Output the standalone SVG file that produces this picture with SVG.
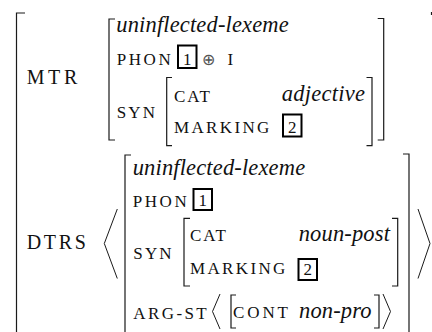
<svg xmlns="http://www.w3.org/2000/svg" width="432" height="332" viewBox="0 0 432 332">
<style>
.br{fill:none;stroke:#1a1a1a;stroke-width:1.2}
.ang{fill:none;stroke:#1a1a1a;stroke-width:1}
.box{fill:none;stroke:#000;stroke-width:2}
</style>
<rect width="432" height="332" fill="#fff"/>
<g id="connectors">
<path class="br" d="M25 13H16.5V333"/>
<path class="br" d="M431.5 12V15"/>
<path class="br" d="M115 19H109V140H115"/>
<path class="br" d="M377.7 18.5H383.7V140H377.7"/>
<path class="br" d="M172 77.5H166.7V145.7H172"/>
<path class="br" d="M366.5 77.5H372V145.7H366.5"/>
<path class="br" d="M131 155H125V333"/>
<path class="br" d="M403 154H409V333"/>
<path class="br" d="M190 218.3H184V286H190"/>
<path class="br" d="M392 218.3H397.7V286H392"/>
<path class="br" d="M236 295H231V328H236"/>
<path class="br" d="M374 295H379V328H374"/>
<path class="ang" d="M117.3 209L104.3 243.5L117.3 278.5"/>
<path class="ang" d="M418 209L430 243.5L418 278.5"/>
<path class="ang" d="M220 294L212.5 311.5L220 329"/>
<path class="ang" d="M383 294L390.5 311.5L383 329"/>
</g>
<g id="mtr" fill="#111">
<text font-family="Liberation Serif" font-size="20" letter-spacing="3.6" x="26.7" y="84.3">MTR</text>
<text font-family="Liberation Serif" font-size="22.5" font-style="italic" letter-spacing="0.15" x="116.3" y="32">uninflected-lexeme</text>
<text font-family="Liberation Serif" font-size="17" letter-spacing="2.6" x="116.7" y="65">PHON</text>
<rect class="box" x="178" y="45.5" width="18.5" height="22.5"/>
<text font-family="Liberation Serif" font-size="17" text-anchor="middle" x="187.3" y="64.5">1</text>
<text font-family="Liberation Serif" font-size="16" fill="#555" x="202" y="65">⊕</text>
<text font-family="Liberation Serif" font-size="17" x="227.5" y="65">I</text>
<text font-family="Liberation Serif" font-size="17" letter-spacing="2.15" x="116.7" y="118.3">SYN</text>
<text font-family="Liberation Serif" font-size="17" letter-spacing="1.85" x="174" y="101.7">CAT</text>
<text font-family="Liberation Serif" font-size="22.5" font-style="italic" letter-spacing="0.25" x="281.7" y="100.5">adjective</text>
<text font-family="Liberation Serif" font-size="17" letter-spacing="2.35" x="174" y="133.3">MARKING</text>
<rect class="box" x="283" y="114.5" width="18.5" height="22"/>
<text font-family="Liberation Serif" font-size="17" text-anchor="middle" x="292.3" y="133">2</text>
</g>
<g id="dtrs" fill="#111">
<text font-family="Liberation Serif" font-size="20" letter-spacing="2.7" x="26.7" y="249.3">DTRS</text>
<text font-family="Liberation Serif" font-size="22.5" font-style="italic" letter-spacing="0.15" x="132.7" y="175">uninflected-lexeme</text>
<text font-family="Liberation Serif" font-size="17" letter-spacing="2.6" x="132.7" y="206.5">PHON</text>
<rect class="box" x="193.5" y="189" width="18.5" height="21"/>
<text font-family="Liberation Serif" font-size="17" text-anchor="middle" x="202.8" y="206">1</text>
<text font-family="Liberation Serif" font-size="17" letter-spacing="2.15" x="133.3" y="259">SYN</text>
<text font-family="Liberation Serif" font-size="17" letter-spacing="1.85" x="190" y="241">CAT</text>
<text font-family="Liberation Serif" font-size="22.5" font-style="italic" letter-spacing="0.15" x="298.7" y="241">noun-post</text>
<text font-family="Liberation Serif" font-size="17" letter-spacing="2.35" x="190" y="274.3">MARKING</text>
<rect class="box" x="298.5" y="259" width="18.5" height="21"/>
<text font-family="Liberation Serif" font-size="17" text-anchor="middle" x="307.8" y="275">2</text>
<text font-family="Liberation Serif" font-size="17" letter-spacing="2.4" x="133.3" y="319">ARG-ST</text>
<text font-family="Liberation Serif" font-size="17" letter-spacing="2.9" x="233" y="318">CONT</text>
<text font-family="Liberation Serif" font-size="22.5" font-style="italic" letter-spacing="0.15" x="299" y="318">non-pro</text>
</g>
</svg>
